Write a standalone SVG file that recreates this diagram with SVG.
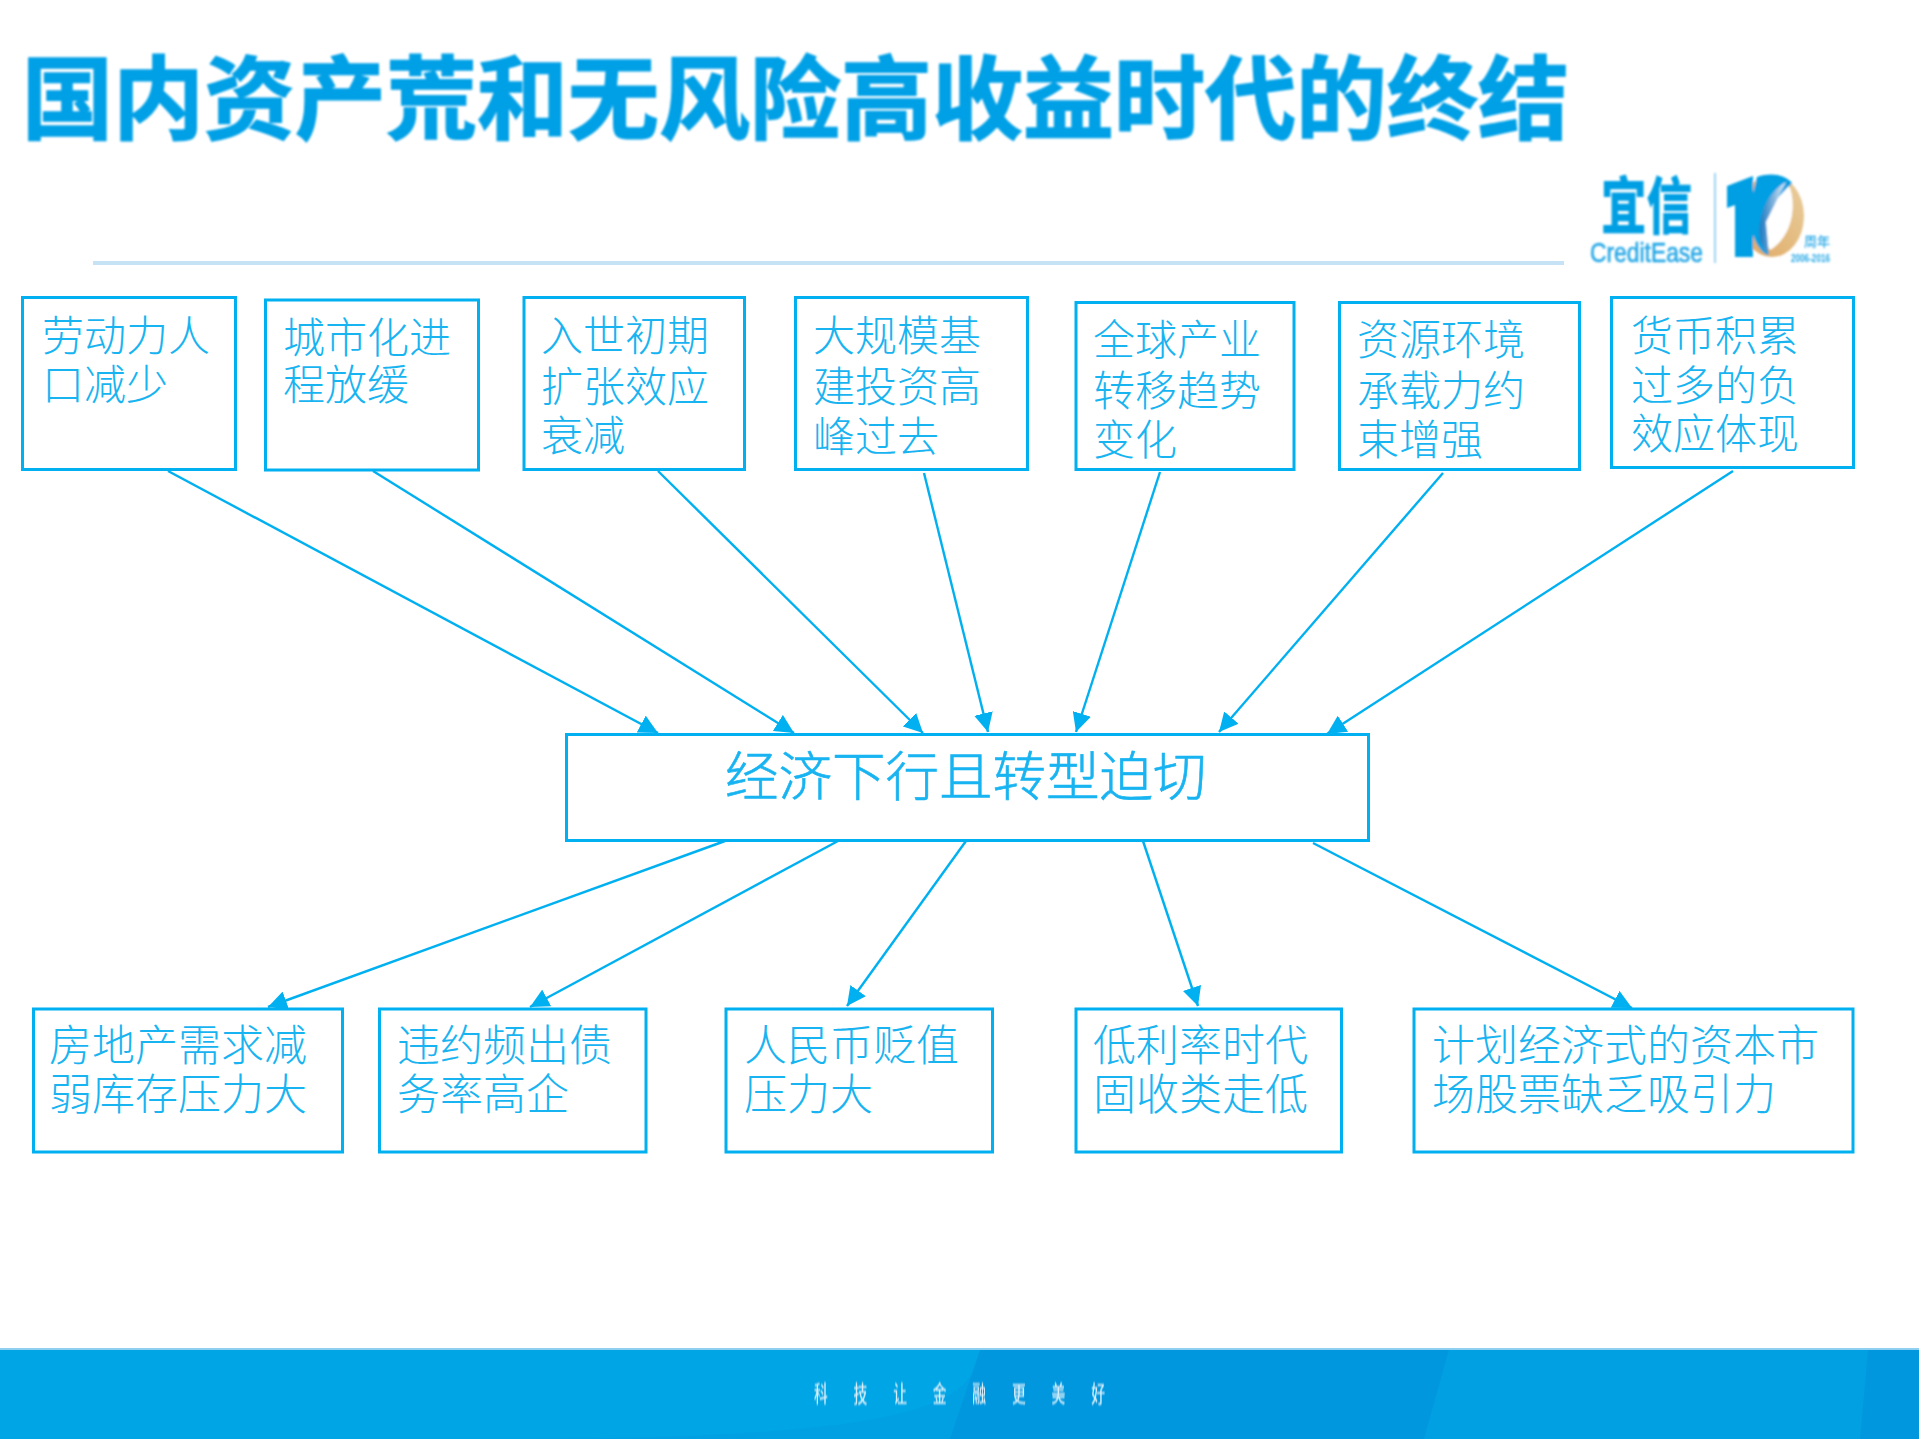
<svg xmlns="http://www.w3.org/2000/svg" width="1919" height="1439" viewBox="0 0 1919 1439">
<style>
.box{fill:#fff;stroke:#00b0f0;stroke-width:3}
.t{font-family:"Liberation Serif","Noto Sans CJK SC",serif;font-size:42px;fill:#18b4f1;font-weight:300}
.b{font-size:43px}
.c{stroke:#00b0f0;stroke-width:2.4;fill:none;marker-end:url(#a)}
.title{font-family:"Noto Sans CJK SC",sans-serif;font-size:91px;font-weight:700;fill:#00a0e6;stroke:#00a0e6;stroke-width:1.5}
</style>
<defs>
<marker id="a" viewBox="0 0 10 10" refX="10" refY="5" markerWidth="19" markerHeight="19" markerUnits="userSpaceOnUse" orient="auto"><path d="M0 0L10 5L0 10Z" fill="#00b0f0"/></marker>
<linearGradient id="gold" x1="0" y1="1" x2="1" y2="0"><stop offset="0" stop-color="#e0a860"/><stop offset="1" stop-color="#e8cfa0"/></linearGradient>
<linearGradient id="blue" x1="0" y1="0" x2="1" y2="0"><stop offset="0" stop-color="#1b78c0"/><stop offset="1" stop-color="#dcebf7"/></linearGradient>
<filter id="soft"><feGaussianBlur stdDeviation="0.9"/></filter>
</defs>
<rect width="1919" height="1439" fill="#fff"/>
<text class="title" x="22" y="132" filter="url(#soft)">国内资产荒和无风险高收益时代的终结</text>
<rect x="93" y="261" width="1471" height="4" fill="#c6e3f6"/>
<g id="logo" filter="url(#soft)">
<text transform="translate(1601 229) scale(0.76 1.04)" font-family="Noto Sans CJK SC,sans-serif" font-size="60" font-weight="900" fill="#009fe3">宜信</text>
<text x="1590" y="262" font-family="Liberation Sans,sans-serif" font-size="28" font-weight="400" fill="#28a8e6" stroke="#28a8e6" stroke-width="0.6" textLength="113" lengthAdjust="spacingAndGlyphs">CreditEase</text>
<rect x="1714" y="173" width="2" height="90" fill="#9fd3f2"/>
<ellipse cx="1772" cy="216" rx="32" ry="41" fill="url(#gold)"/>
<path d="M1757 177C1772 172 1785 175 1792 183L1765 218L1768 255C1755 250 1748 225 1750 205Z" fill="#009fe3"/>
<path d="M1789 186C1796 200 1795 235 1770 250C1763 240 1762 222 1768 208Z" fill="#fff"/>
<path d="M1786 182C1768 192 1757 215 1760 240C1762 246 1765 252 1769 255L1766 222Z" fill="url(#blue)"/>
<path d="M1727 186L1753 176V257H1735V205L1727 208Z" fill="#009fe3"/>
<text x="1804" y="246" font-family="Noto Sans CJK SC,sans-serif" font-size="13" font-weight="500" fill="#28a8e6">周年</text>
<text x="1791" y="262" font-family="Liberation Sans,sans-serif" font-size="10" font-weight="700" fill="#28a8e6" textLength="39" lengthAdjust="spacingAndGlyphs">2006-2016</text>
</g>
<g id="connectors">
<path class="c" d="M168 471L658 733"/>
<path class="c" d="M373 471L794 733"/>
<path class="c" d="M658 471L923 733"/>
<path class="c" d="M924 473L988 732"/>
<path class="c" d="M1160 472L1076 732"/>
<path class="c" d="M1443 473L1219 732"/>
<path class="c" d="M1733 471L1327 734"/>
<path class="c" d="M725 841L268 1007"/>
<path class="c" d="M838 841L530 1007"/>
<path class="c" d="M966 841L847 1006"/>
<path class="c" d="M1143 841L1198 1006"/>
<path class="c" d="M1313 843L1632 1008"/>
</g>
<g id="n1"><rect class="box" x="22.500" y="297.500" width="213" height="172"/><text class="t" x="42" y="351">劳动力人</text><text class="t" x="42" y="400">口减少</text></g>
<g id="n2"><rect class="box" x="265.500" y="300" width="213" height="170"/><text class="t" x="283" y="353">城市化进</text><text class="t" x="283" y="400">程放缓</text></g>
<g id="n3"><rect class="box" x="524" y="297.500" width="220.500" height="172"/><text class="t" x="541" y="351">入世初期</text><text class="t" x="541" y="402">扩张效应</text><text class="t" x="541" y="451">衰减</text></g>
<g id="n4"><rect class="box" x="795.500" y="297.500" width="232" height="172"/><text class="t" x="813" y="351">大规模基</text><text class="t" x="813" y="402">建投资高</text><text class="t" x="813" y="452">峰过去</text></g>
<g id="n5"><rect class="box" x="1076" y="302.500" width="218" height="167"/><text class="t" x="1093" y="355">全球产业</text><text class="t" x="1093" y="406">转移趋势</text><text class="t" x="1093" y="455">变化</text></g>
<g id="n6"><rect class="box" x="1339.500" y="302.500" width="240" height="167"/><text class="t" x="1357" y="355">资源环境</text><text class="t" x="1357" y="406">承载力约</text><text class="t" x="1357" y="455">束增强</text></g>
<g id="n7"><rect class="box" x="1611.500" y="297.500" width="242" height="170"/><text class="t" x="1631" y="351">货币积累</text><text class="t" x="1631" y="401">过多的负</text><text class="t" x="1631" y="449">效应体现</text></g>
<g id="n8"><rect class="box" x="566.500" y="734.500" width="802" height="106"/><text class="t" x="725" y="796" style="font-size:53.500px;stroke:#18b4f1;stroke-width:.6">经济下行且转型迫切</text></g>
<g id="n9"><rect class="box" x="33.500" y="1009" width="309" height="143"/><text class="t b" x="49" y="1061">房地产需求减</text><text class="t b" x="49" y="1110">弱库存压力大</text></g>
<g id="n10"><rect class="box" x="379.500" y="1009" width="266.500" height="143"/><text class="t b" x="397" y="1061">违约频出债</text><text class="t b" x="397" y="1110">务率高企</text></g>
<g id="n11"><rect class="box" x="726" y="1009" width="266.500" height="143"/><text class="t b" x="744" y="1061">人民币贬值</text><text class="t b" x="744" y="1110">压力大</text></g>
<g id="n12"><rect class="box" x="1076" y="1009" width="265.500" height="143"/><text class="t b" x="1093" y="1061">低利率时代</text><text class="t b" x="1093" y="1110">固收类走低</text></g>
<g id="n13"><rect class="box" x="1414" y="1009" width="439" height="143"/><text class="t b" x="1432" y="1061">计划经济式的资本市</text><text class="t b" x="1432" y="1110">场股票缺乏吸引力</text></g>
<g id="footer">
<rect y="1348" width="1919" height="91" fill="#00a0e3"/>
<rect y="1348" width="1919" height="2" fill="#8fd0f0"/>
<path d="M0 1350H980C970 1400 940 1439 500 1439H0Z" fill="#00a5e5"/>
<path d="M980 1350H1449L1424 1439H950Z" fill="#0097df"/>
<path d="M1868 1350H1919V1439H1860Z" fill="#0097df"/>
<text transform="translate(814 1402) scale(0.6 1)" font-family="Noto Sans CJK SC,sans-serif" font-size="23" font-weight="500" fill="#d8eefa" letter-spacing="43" filter="url(#soft)">科技让金融更美好</text>
</g>
</svg>
